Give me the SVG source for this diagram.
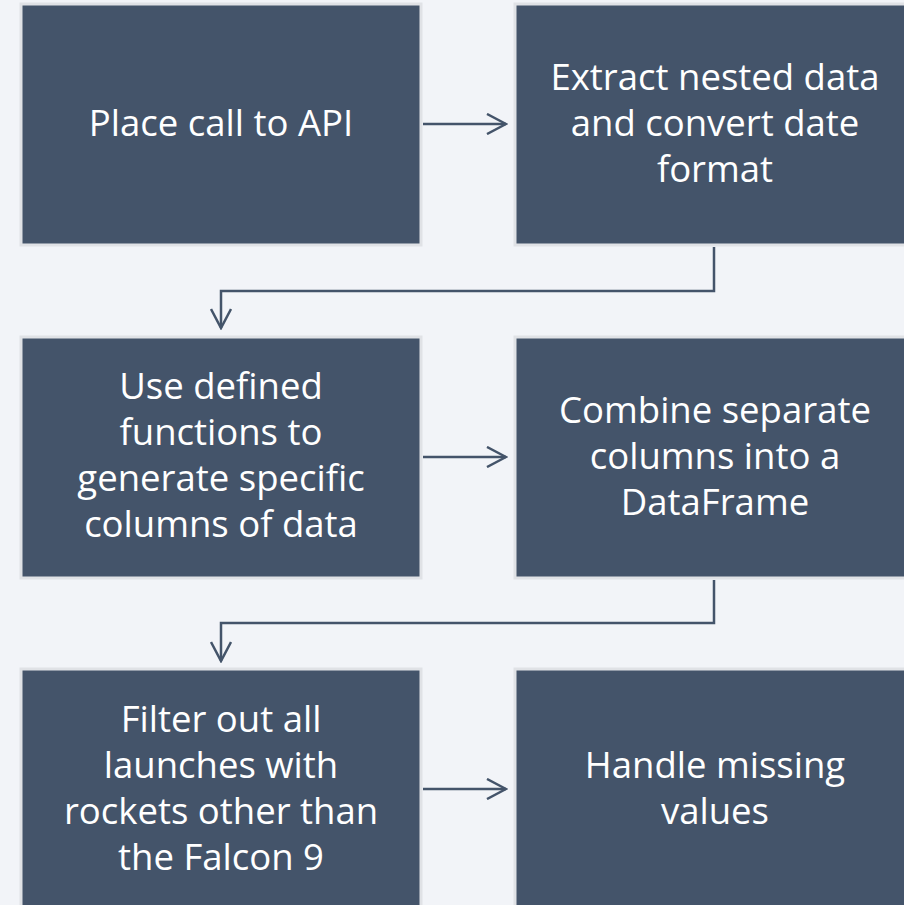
<svg xmlns="http://www.w3.org/2000/svg" width="904" height="905" viewBox="0 0 904 905">
  <style>
    .box { fill: #44546A; stroke: #E0E2E6; stroke-width: 3; }
    .lbl { font-family: "Open Sans", "Noto Sans", "Liberation Sans", sans-serif; font-size: 36.5px; fill: #FFFFFF; text-anchor: middle; }
    .conn { fill: none; stroke: #44546A; stroke-width: 2.5; }
  </style>
  <defs>
    <marker id="chev" viewBox="0 0 22 22" refX="20" refY="11" markerWidth="22" markerHeight="22" markerUnits="userSpaceOnUse" orient="auto">
      <path d="M1,1 L20,11 L1,21" fill="none" stroke="#44546A" stroke-width="2.5"/>
    </marker>
  </defs>
  <rect x="0" y="0" width="904" height="905" fill="#F2F4F8"/>

  <g id="node1">
    <rect class="box" x="21" y="4" width="400" height="241"/>
    <text class="lbl" x="221" y="136">Place call to API</text>
  </g>
  <g id="node2">
    <rect class="box" x="515" y="4" width="400" height="241"/>
    <text class="lbl" x="715" y="90">Extract nested data</text>
    <text class="lbl" x="715" y="136">and convert date</text>
    <text class="lbl" x="715" y="182">format</text>
  </g>
  <g id="node3">
    <rect class="box" x="21" y="337" width="400" height="241"/>
    <text class="lbl" x="221" y="399">Use defined</text>
    <text class="lbl" x="221" y="445">functions to</text>
    <text class="lbl" x="221" y="491">generate specific</text>
    <text class="lbl" x="221" y="537">columns of data</text>
  </g>
  <g id="node4">
    <rect class="box" x="515" y="337" width="400" height="241"/>
    <text class="lbl" x="715" y="423">Combine separate</text>
    <text class="lbl" x="715" y="469">columns into a</text>
    <text class="lbl" x="715" y="515">DataFrame</text>
  </g>
  <g id="node5">
    <rect class="box" x="21" y="669" width="400" height="241"/>
    <text class="lbl" x="221" y="732">Filter out all</text>
    <text class="lbl" x="221" y="778">launches with</text>
    <text class="lbl" x="221" y="824">rockets other than</text>
    <text class="lbl" x="221" y="870">the Falcon 9</text>
  </g>
  <g id="node6">
    <rect class="box" x="515" y="669" width="400" height="241"/>
    <text class="lbl" x="715" y="778">Handle missing</text>
    <text class="lbl" x="715" y="824">values</text>
  </g>

  <g id="connectors">
    <path class="conn" d="M423,124 H506" marker-end="url(#chev)"/>
    <path class="conn" d="M714,247 V291 H221 V328" marker-end="url(#chev)"/>
    <path class="conn" d="M423,457 H506" marker-end="url(#chev)"/>
    <path class="conn" d="M714,580 V623 H221 V661" marker-end="url(#chev)"/>
    <path class="conn" d="M423,789 H506" marker-end="url(#chev)"/>
  </g>
</svg>
